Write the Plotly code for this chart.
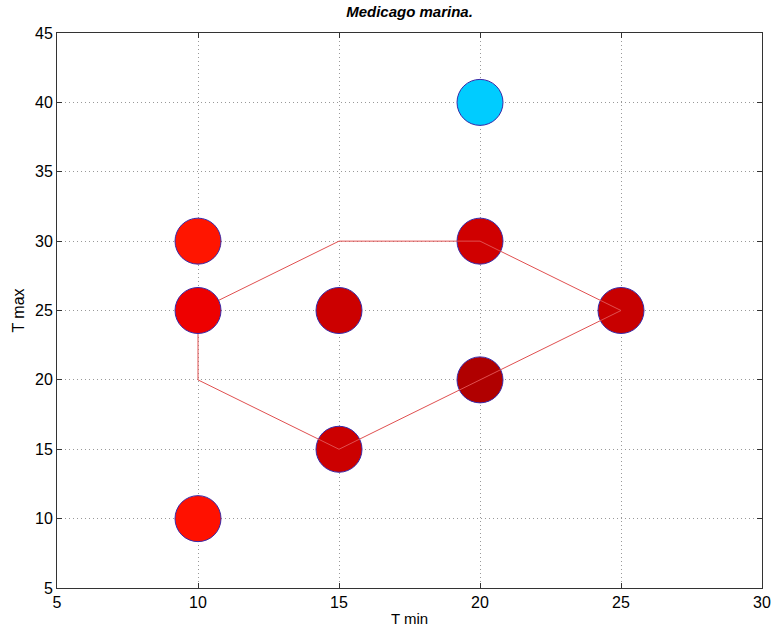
import plotly.graph_objects as go

# Data
t_min = [10, 10, 10, 15, 15, 20, 20, 20, 25]
t_max = [30, 25, 10, 25, 15, 40, 30, 20, 25]
colors = ["#ff1500", "#ee0000", "#ff1100", "#cc0000", "#cc0000",
          "#00ccff", "#d00000", "#b00000", "#c80000"]
# outline polygon
hull_x = [10, 15, 20, 25, 20, 15, 10, 10]
hull_y = [25, 30, 30, 25, 20, 15, 20, 25]

# markers drawn before the outline line / after it
before = [3, 4, 5, 6, 7, 8]
after = [0, 1, 2]

fig = go.Figure()
fig.add_trace(go.Scatter(
    x=[t_min[i] for i in before], y=[t_max[i] for i in before],
    mode="markers",
    marker=dict(size=46, color=[colors[i] for i in before],
                line=dict(color="#3a2aa8", width=1)),
    showlegend=False, hoverinfo="skip"))
fig.add_trace(go.Scatter(
    x=hull_x, y=hull_y, mode="lines",
    line=dict(color="#e05050", width=1),
    showlegend=False, hoverinfo="skip"))
fig.add_trace(go.Scatter(
    x=[t_min[i] for i in after], y=[t_max[i] for i in after],
    mode="markers",
    marker=dict(size=46, color=[colors[i] for i in after],
                line=dict(color="#3a2aa8", width=1)),
    showlegend=False, hoverinfo="skip"))

axis_common = dict(
    showgrid=True, gridcolor="#999999", griddash="1px,3px", gridwidth=1,
    zeroline=False, showline=True, linecolor="#333333", linewidth=1,
    mirror="ticks", ticks="inside", ticklen=5, tickcolor="#333333",
    automargin=False,
    tickfont=dict(family="Liberation Sans, Arial, sans-serif", size=16, color="#000"),
)

fig.update_layout(
    width=773, height=637,
    margin=dict(l=57, r=11, t=33, b=49, autoexpand=False),
    plot_bgcolor="white", paper_bgcolor="white",
    title=dict(text="<b><i>Medicago marina.</i></b>", x=0.5, xanchor="center",
               xref="paper", y=1 - 12 / 637, yref="container", yanchor="middle",
               automargin=False,
               font=dict(family="Liberation Sans, Arial, sans-serif", size=15, color="#000")),
    xaxis=dict(range=[5, 30], tickmode="linear", tick0=5, dtick=5,
               title=dict(text="T min", standoff=3,
                          font=dict(family="Liberation Sans, Arial, sans-serif", size=15, color="#000")),
               **axis_common),
    yaxis=dict(range=[5, 45], tickmode="linear", tick0=5, dtick=5,
               title=dict(text="T max", standoff=6,
                          font=dict(family="Liberation Sans, Arial, sans-serif", size=16, color="#000")),
               **axis_common),
)

fig.write_html(
    "out.html",
    config={"displayModeBar": False},
    post_script="document.body.style.margin='0';document.body.style.overflow='hidden';",
)
